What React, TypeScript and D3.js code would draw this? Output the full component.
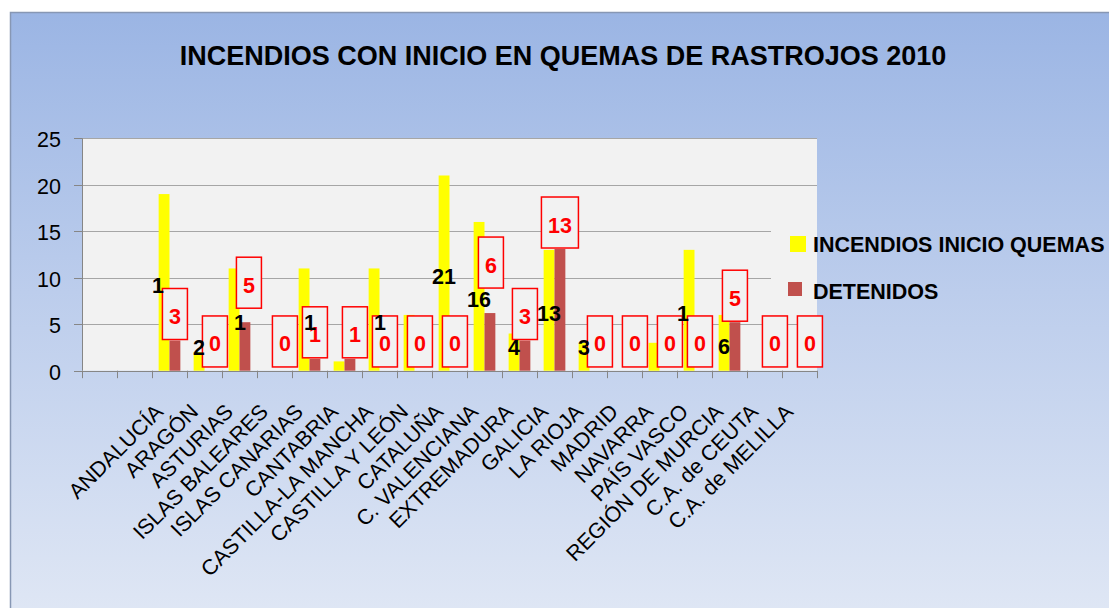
import React, { useEffect, useRef } from 'react';
import * as d3 from 'd3';

const regions = [
  'ANDALUCÍA', 'ARAGÓN', 'ASTURIAS', 'ISLAS BALEARES', 'ISLAS CANARIAS', 'CANTABRIA',
  'CASTILLA-LA MANCHA', 'CASTILLA Y LEÓN', 'CATALUÑA', 'C. VALENCIANA', 'EXTREMADURA',
  'GALICIA', 'LA RIOJA', 'MADRID', 'NAVARRA', 'PAÍS VASCO', 'REGIÓN DE MURCIA',
  'C.A. de CEUTA', 'C.A. de MELILLA',
];
// the category axis starts with two empty slots
const categories = ['', '', ...regions];
const incendios = [null, null, 19, 2, 11, 0, 11, 1, 11, 6, 21, 16, 4, 13, 3, 0, 3, 13, 6, 0, 0];
const detenidos = [null, null, 3, 0, 5, 0, 1, 1, 0, 0, 0, 6, 3, 13, 0, 0, 0, 0, 5, 0, 0];
// what is left visible of the black labels ('_' = digit missing)
const incendiosShown = ['', '', '1_', '2', '_1', '', '_1', '', '_1', '', '21', '16', '4', '13', '3', '', '', '1_', '6', '', ''];
const yTicks = [0, 5, 10, 15, 20, 25];
const seriesNames = ['INCENDIOS INICIO QUEMAS', 'DETENIDOS'];
const seriesColors = ['#ffff00', '#c0504d'];
const title = 'INCENDIOS CON INICIO EN QUEMAS DE RASTROJOS 2010';

// red labels that were dragged by hand: [dx, lift] in px
const labelNudge: Record<string, [number, number]> = {
  'ARAGÓN': [5, 0],
  'ASTURIAS': [4, 13],
  'ISLAS BALEARES': [5, 0],
  'CANTABRIA': [5, 0],
  'C. VALENCIANA': [1, 24],
  'LA RIOJA': [5, 0],
  'MADRID': [5, 0],
  'NAVARRA': [5, 0],
  'C.A. de CEUTA': [5, 0],
  'C.A. de MELILLA': [5, 0],
};

const W = 1109;
const H = 608;
const FONT = '"Liberation Sans", Arial, sans-serif';

const App: React.FC = () => {
  const svgRef = useRef<SVGSVGElement>(null);

  useEffect(() => {
    if (!svgRef.current) return;
    const svg = d3.select(svgRef.current);
    svg.selectAll('*').remove();

    const plot = { left: 82, right: 817, top: 138.3, bottom: 370.7 };

    const defs = svg.append('defs');
    const grad = defs.append('linearGradient')
      .attr('id', 'bg').attr('x1', 0).attr('y1', 0).attr('x2', 0).attr('y2', 1);
    grad.append('stop').attr('offset', '0%').attr('stop-color', '#9bb5e4');
    grad.append('stop').attr('offset', '45%').attr('stop-color', '#bccdec');
    grad.append('stop').attr('offset', '100%').attr('stop-color', '#e1e8f5');

    svg.append('rect').attr('width', W).attr('height', H).attr('fill', '#ffffff');
    svg.append('rect')
      .attr('x', 10.5).attr('y', 12.5).attr('width', 1120).attr('height', 620)
      .attr('fill', 'url(#bg)').attr('stroke', '#8797b4').attr('stroke-width', 1.5);

    // Scales
    const x = d3.scaleBand<number>()
      .domain(d3.range(categories.length))
      .range([plot.left, plot.right])
      .paddingInner(0.38)
      .paddingOuter(0.19);
    const xs = d3.scaleBand<string>().domain(seriesNames).range([0, x.bandwidth()]);
    const y = d3.scaleLinear().domain([0, 25]).range([plot.bottom, plot.top]);
    // DETENIDOS sits on a hidden secondary axis
    const y2 = d3.scaleLinear().domain([-0.3, 25.1]).range([plot.bottom, plot.top]);

    // Plot area + grid
    svg.append('rect')
      .attr('x', plot.left).attr('y', plot.top)
      .attr('width', plot.right - plot.left).attr('height', plot.bottom - plot.top)
      .attr('fill', '#f2f2f2');

    svg.append('g').selectAll('line').data(yTicks.filter(t => t > 0)).join('line')
      .attr('x1', plot.left).attr('x2', plot.right)
      .attr('y1', d => Math.round(y(d)) + 0.5).attr('y2', d => Math.round(y(d)) + 0.5)
      .attr('stroke', '#a6a6a6').attr('stroke-width', 1);

    // legend box hides part of the grid
    svg.append('rect')
      .attr('x', 771).attr('y', 212).attr('width', plot.right - 771).attr('height', 100)
      .attr('fill', '#f2f2f2');

    // Axes
    const axisColor = '#868686';
    svg.append('line')
      .attr('x1', plot.left + 0.5).attr('x2', plot.left + 0.5)
      .attr('y1', plot.top).attr('y2', plot.bottom)
      .attr('stroke', axisColor);
    svg.append('g').selectAll('line').data(yTicks).join('line')
      .attr('x1', plot.left - 8).attr('x2', plot.left)
      .attr('y1', d => Math.round(y(d)) + 0.5).attr('y2', d => Math.round(y(d)) + 0.5)
      .attr('stroke', axisColor);
    svg.append('g').selectAll('text').data(yTicks).join('text')
      .attr('x', 61).attr('y', d => y(d) + 9)
      .attr('text-anchor', 'end')
      .attr('font-family', FONT).attr('font-size', 21.5).attr('fill', '#000')
      .text(d => d);

    const edges = d3.range(categories.length + 1).map(i => plot.left + i * x.step());
    svg.append('line')
      .attr('x1', plot.left).attr('x2', plot.right)
      .attr('y1', Math.round(plot.bottom) + 0.5).attr('y2', Math.round(plot.bottom) + 0.5)
      .attr('stroke', axisColor);
    svg.append('g').selectAll('line').data(edges).join('line')
      .attr('x1', d => Math.round(d) + 0.5).attr('x2', d => Math.round(d) + 0.5)
      .attr('y1', plot.bottom).attr('y2', plot.bottom + 7.5)
      .attr('stroke', axisColor);

    // Category labels
    svg.append('g').selectAll('text').data(categories.map((c, i) => ({ c, i })).filter(d => d.c))
      .join('text')
      .attr('transform', d => `translate(${x(d.i)! - x.paddingOuter() * x.step() + x.step() / 2 - 5},413) rotate(-45)`)
      .attr('text-anchor', 'end')
      .attr('font-family', FONT).attr('font-size', 21.5).attr('fill', '#000')
      .text(d => d.c);

    // Bars
    const barsInc = categories.map((_, i) => ({ i, v: incendios[i] })).filter(d => d.v !== null && d.v > 0);
    svg.append('g').selectAll('rect').data(barsInc).join('rect')
      .attr('x', d => x(d.i)! + xs(seriesNames[0])!)
      .attr('width', xs.bandwidth())
      .attr('y', d => y(d.v as number))
      .attr('height', d => y(0) - y(d.v as number))
      .attr('fill', seriesColors[0]);

    const barsDet = categories.map((_, i) => ({ i, v: detenidos[i] })).filter(d => d.v !== null && d.v > 0);
    svg.append('g').selectAll('rect').data(barsDet).join('rect')
      .attr('x', d => x(d.i)! + xs(seriesNames[1])!)
      .attr('width', xs.bandwidth())
      .attr('y', d => y2(d.v as number))
      .attr('height', d => plot.bottom - y2(d.v as number))
      .attr('fill', seriesColors[1]);

    // Red boxed labels (DETENIDOS)
    const detLabels = svg.append('g');
    categories.forEach((c, i) => {
      const v = detenidos[i];
      if (v === null) return;
      const [dx, lift] = labelNudge[c] || [0, 0];
      const cx = x(i)! + xs(seriesNames[1])! + xs.bandwidth() / 2 + dx;
      const bottom = y2(v) - 1 - lift;
      const w = 13 + 12 * String(v).length;
      const h = 51;
      detLabels.append('rect')
        .attr('x', cx - w / 2).attr('y', bottom - h)
        .attr('width', w).attr('height', h)
        .attr('fill', '#f2f2f2').attr('stroke', '#ff0000').attr('stroke-width', 1.5);
      detLabels.append('text')
        .attr('x', cx).attr('y', bottom - h / 2 + 10)
        .attr('text-anchor', 'middle')
        .attr('font-family', FONT).attr('font-size', 21.5).attr('font-weight', 'bold')
        .attr('fill', '#ff0000')
        .text(v);
    });

    // Black labels (INCENDIOS), centred in the bar, on top of the boxes
    const incLabels = svg.append('g');
    categories.forEach((_, i) => {
      const shown = incendiosShown[i];
      const v = incendios[i];
      if (!shown || v === null) return;
      const cx = x(i)! + xs(seriesNames[0])! + xs.bandwidth() / 2;
      const cy = Math.min((y(v) + y(0)) / 2, y(2.8)) + 3;
      const t = incLabels.append('text')
        .attr('x', cx).attr('y', cy + 7.7)
        .attr('text-anchor', 'middle')
        .attr('font-family', FONT).attr('font-size', 21.5).attr('font-weight', 'bold')
        .attr('fill', '#000');
      shown.split('').forEach(ch => {
        t.append('tspan')
          .attr('fill-opacity', ch === '_' ? 0 : 1)
          .text(ch === '_' ? '0' : ch);
      });
    });

    // Legend
    const legend = svg.append('g');
    legend.append('rect').attr('x', 790).attr('y', 236).attr('width', 16).attr('height', 16).attr('fill', seriesColors[0]);
    legend.append('rect').attr('x', 788).attr('y', 282).attr('width', 14).attr('height', 14).attr('fill', seriesColors[1]);
    legend.selectAll('text').data(seriesNames).join('text')
      .attr('x', 813).attr('y', (_, i) => [251.7, 299.3][i])
      .attr('font-family', FONT).attr('font-size', 21.5).attr('font-weight', 'bold')
      .attr('fill', '#000')
      .text(d => d);

    // Title
    svg.append('text')
      .attr('x', 563).attr('y', 65)
      .attr('text-anchor', 'middle')
      .attr('font-family', FONT).attr('font-size', 27).attr('font-weight', 'bold')
      .attr('fill', '#000')
      .text(title);
  }, []);

  return (
    <svg
      ref={svgRef}
      width={W}
      height={H}
      style={{ position: 'absolute', left: 0, top: 0, display: 'block' }}
    />
  );
};

export default App;
